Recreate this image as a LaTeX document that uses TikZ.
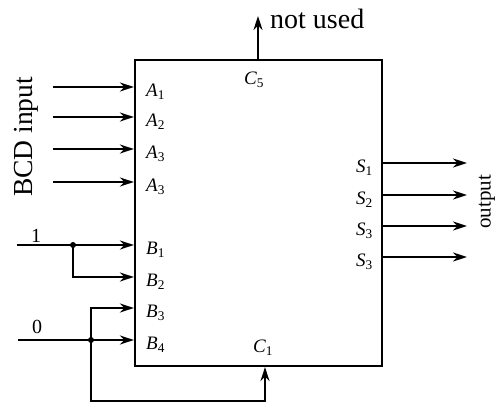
\documentclass[tikz,border=0pt]{standalone}
\usepackage{fontspec}
\setmainfont{Liberation Serif}
\usetikzlibrary{arrows.meta, positioning}

\begin{document}
\begin{tikzpicture}[
    x=1pt, y=-1pt,
    every node/.style={inner sep=0pt},
    wire/.style={line width=2.2pt},
    arr/.style={wire, -{Stealth[length=14pt, width=9pt]}},
    pin/.style={font=\fontsize{19}{19}\selectfont},
    dot/.style={circle, fill, minimum size=6pt, inner sep=0pt},
  ]
  \useasboundingbox (0,0) rectangle (500,411);

  % Adder block
  \node[draw, line width=2.2pt, minimum width=247pt, minimum height=306pt] (adder) at (258.5,213) {};

  % BCD inputs A
  \foreach \y/\n [count=\i] in {87/1, 117/2, 149/3, 182/3} {
    \coordinate (a\i) at (53,\y);
    \coordinate (pa\i) at (adder.west |- a\i);
    \draw[arr] (a\i) -- (pa\i);
    \node[pin, anchor=west] (la\i) at (146,\y+5) {\textit{A}\textsubscript{\n}};
  }
  \node[font=\fontsize{27.5}{27.5}\selectfont, rotate=90] (bcd) at (26,137) {BCD input};

  % Constant inputs B
  \foreach \y [count=\i] in {245, 277, 308, 340} {
    \coordinate (pb\i) at (adder.west |- 0,\y);
    \node[pin, anchor=west] (lb\i) at (146,\y+5) {\textit{B}\textsubscript{\i}};
  }
  \coordinate (one) at (17,245);
  \coordinate (zero) at (18,340);
  \node[dot] (j1) at (73,245) {};
  \node[dot] (j0) at (91,340) {};
  \draw[arr] (one) -- (j1.center) -- (pb1);
  \draw[arr] (j1.center) |- (pb2);
  \draw[arr] (zero) -- (j0.center) -- (pb4);
  \draw[arr] (j0.center) |- (pb3);
  \node[font=\fontsize{20}{20}\selectfont] (lone) at (36,236) {1};
  \node[font=\fontsize{20}{20}\selectfont] (lzero) at (37,327) {0};

  % Carry out (top) and carry in (bottom)
  \coordinate (c5) at (adder.north -| 258,0);
  \coordinate (nu) at (258,16);
  \draw[arr] (c5) -- (nu);
  \node[font=\fontsize{28}{28}\selectfont, anchor=west] (notused) at (270,19) {not used};
  \node[pin] (lc5) at (254,80) {\textit{C}\textsubscript{5}};
  \coordinate (c1) at (adder.south -| 265,0);
  \coordinate (lp) at (265,401);
  \draw[arr] (j0.center) |- (lp) -- (c1);
  \node[pin] (lc1) at (263,348) {\textit{C}\textsubscript{1}};

  % Sum outputs S
  \foreach \y/\n [count=\i] in {163/1, 195/2, 226/3, 257/3} {
    \coordinate (ps\i) at (adder.east |- 0,\y);
    \coordinate (s\i) at (467,\y);
    \draw[arr] (ps\i) -- (s\i);
    \node[pin, anchor=east] (ls\i) at (373,\y+5) {\textit{S}\textsubscript{\n}};
  }
  \node[font=\fontsize{21}{21}\selectfont, rotate=90] (out) at (487,202) {output};
\end{tikzpicture}
\end{document}
